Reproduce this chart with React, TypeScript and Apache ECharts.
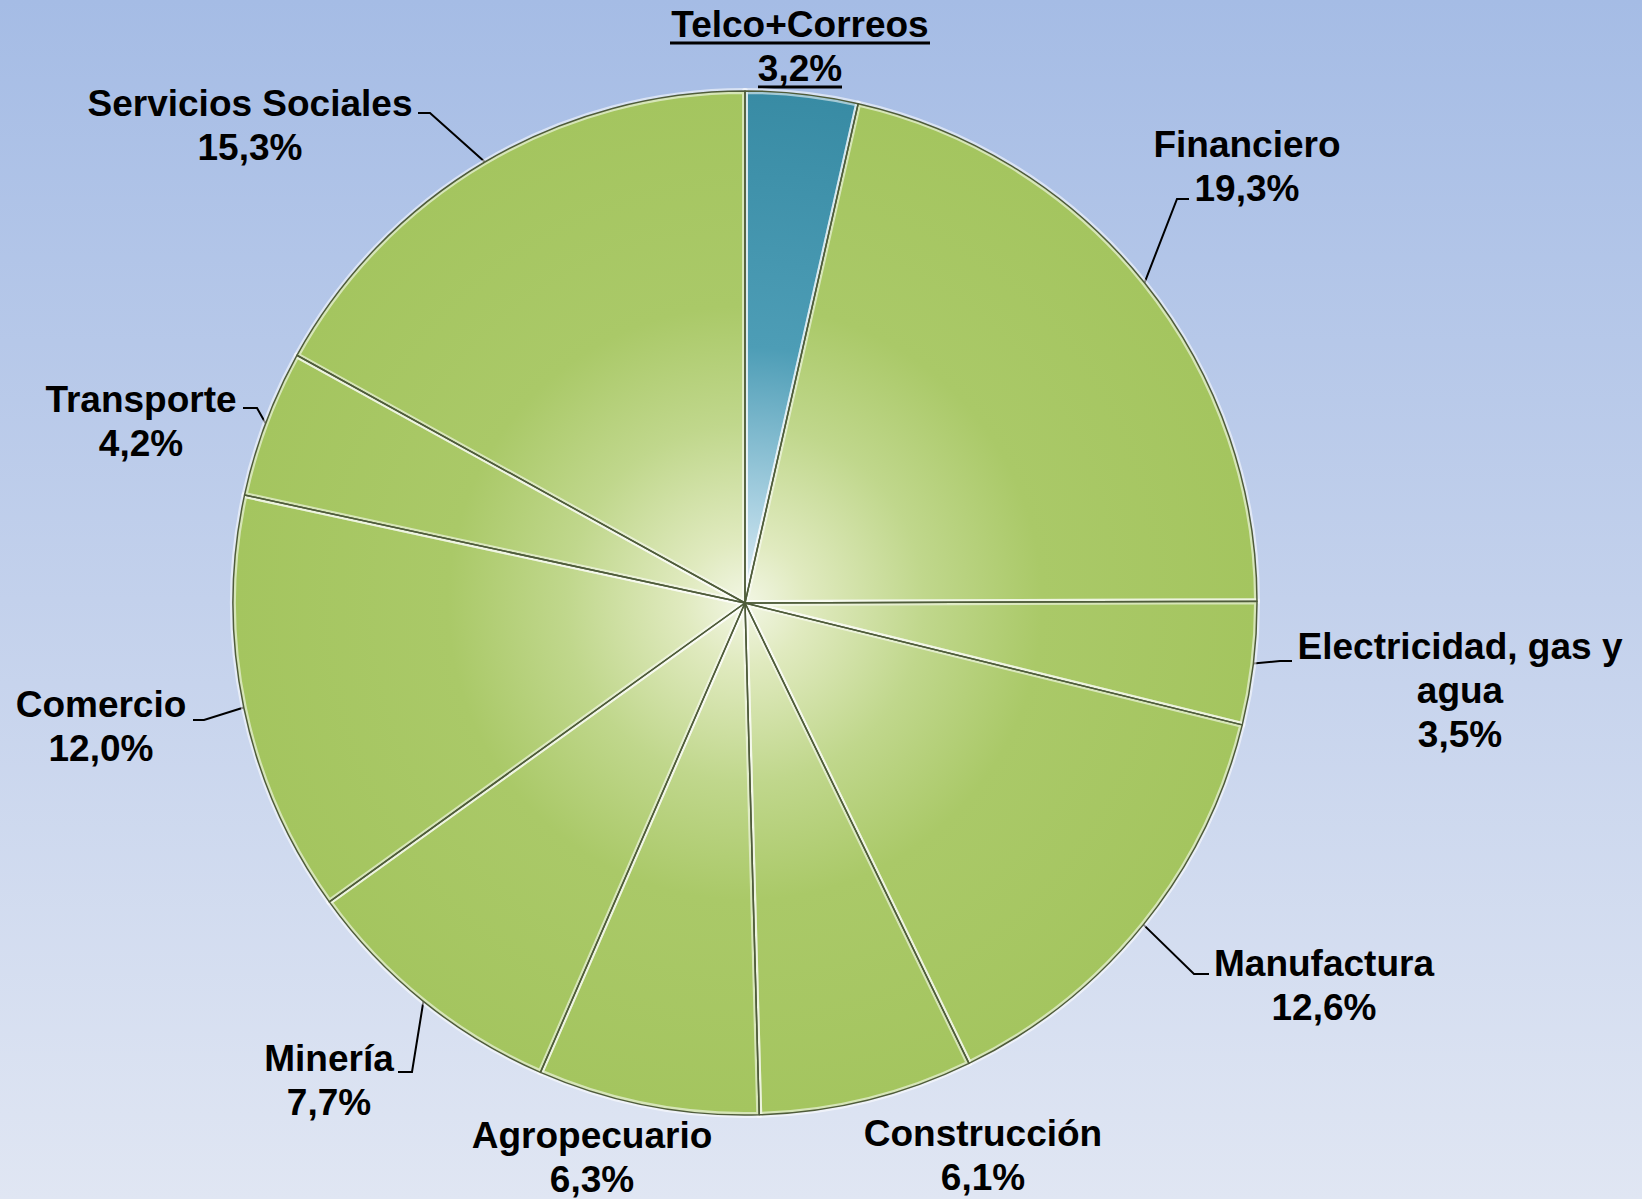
import React, { useEffect, useRef } from 'react';
import * as echarts from 'echarts';

// ---- data ----
const categories = [
  'Telco+Correos',
  'Financiero',
  'Electricidad, gas y\nagua',
  'Manufactura',
  'Construcción',
  'Agropecuario',
  'Minería',
  'Comercio',
  'Transporte',
  'Servicios Sociales',
];
const shares = [3.2, 19.3, 3.5, 12.6, 6.1, 6.3, 7.7, 12.0, 4.2, 15.3];
const highlighted = [true, false, false, false, false, false, false, false, false, false];
const showLeader = [false, true, true, true, false, false, true, true, true, true];

// ---- layout (label placement only) ----
const PIE_CENTER = [745, 603];
const PIE_RADIUS = 512;
const labelCenters = [
  [800, 46],
  [1247, 166],
  [1460, 690],
  [1324, 985],
  [983, 1155],
  [592, 1157],
  [329, 1080],
  [101, 726],
  [141, 421],
  [250, 125],
];
const leaderEnds: (number[][] | null)[] = [
  null,
  [[1177, 199], [1189, 199]],
  [[1280, 661], [1292, 661]],
  [[1194, 974], [1209, 974]],
  null,
  null,
  [[412, 1072], [398, 1072]],
  [[204, 720], [193, 720]],
  [[257, 408], [243, 408]],
  [[430, 113], [418, 113]],
];

const fmt = (v: number) => v.toFixed(1).replace('.', ',') + '%';

export default function App() {
  const ref = useRef<HTMLDivElement>(null);

  useEffect(() => {
    if (!ref.current) return;
    const chart = echarts.init(ref.current, undefined, { renderer: 'svg' });
    const total = shares.reduce((a, b) => a + b, 0);
    const anchors = shares.map((v, i) => {
      const before = shares.slice(0, i).reduce((a, b) => a + b, 0);
      const mid = ((before + v / 2) / total) * Math.PI * 2;
      return [PIE_CENTER[0] + PIE_RADIUS * Math.sin(mid), PIE_CENTER[1] - PIE_RADIUS * Math.cos(mid)];
    });

    const greenFill = new echarts.graphic.RadialGradient(
      PIE_CENTER[0], PIE_CENTER[1], PIE_RADIUS,
      [
        { offset: 0, color: '#f2f6e4' },
        { offset: 0.12, color: '#e0eabf' },
        { offset: 0.35, color: '#c0d78c' },
        { offset: 0.58, color: '#aac968' },
        { offset: 1, color: '#a4c55f' },
      ],
      true
    );
    const tealFill = new echarts.graphic.RadialGradient(
      PIE_CENTER[0], PIE_CENTER[1], PIE_RADIUS,
      [
        { offset: 0, color: '#e2eef6' },
        { offset: 0.2, color: '#a6cfe0' },
        { offset: 0.5, color: '#4d9db6' },
        { offset: 1, color: '#388ba4' },
      ],
      true
    );

    const data = categories.map((name, i) => ({
      name,
      value: shares[i],
      itemStyle: { color: highlighted[i] ? tealFill : greenFill },
      labelLine: { show: showLeader[i] },
    }));
    const outlineData = categories.map((name, i) => ({ name, value: shares[i] }));

    chart.setOption({
      animation: false,
      graphic: [
        { type: 'line', shape: { x1: 670, y1: 43, x2: 930, y2: 43 }, style: { stroke: '#000', lineWidth: 3 } },
        { type: 'line', shape: { x1: 758, y1: 87, x2: 842, y2: 87 }, style: { stroke: '#000', lineWidth: 3 } },
      ],
      series: [
        {
          type: 'pie',
          center: PIE_CENTER,
          radius: PIE_RADIUS,
          startAngle: 90,
          clockwise: true,
          avoidLabelOverlap: false,
          data,
          itemStyle: {
            borderColor: 'rgba(255,255,255,0.55)',
            borderWidth: 6,
          },
          label: {
            show: true,
            position: 'outside',
            formatter: (p: any) => `${p.name}\n${fmt(p.value)}`,
            fontFamily: '"Liberation Sans", Arial, sans-serif',
            fontWeight: 'bold',
            fontSize: 37,
            lineHeight: 44,
            color: '#000',
            align: 'center',
          },
          labelLine: {
            show: true,
            lineStyle: { color: '#000', width: 2 },
          },
          labelLayout: (params: any) => {
            const i = params.dataIndex;
            const c = labelCenters[i];
            const res: any = { x: c[0], y: c[1], align: 'center', verticalAlign: 'middle' };
            const ends = leaderEnds[i];
            if (ends) {
              res.labelLinePoints = [anchors[i], ends[0], ends[1]];
            }
            return res;
          },
        },
        {
          type: 'pie',
          center: PIE_CENTER,
          radius: PIE_RADIUS,
          startAngle: 90,
          clockwise: true,
          silent: true,
          data: outlineData,
          itemStyle: {
            color: 'rgba(0,0,0,0)',
            borderColor: '#4f5c3a',
            borderWidth: 1.5,
          },
          label: { show: false },
          labelLine: { show: false },
        },
      ],
    });
    return () => chart.dispose();
  }, []);

  return (
    <div
      ref={ref}
      style={{
        position: 'absolute',
        left: 0,
        top: 0,
        width: 1642,
        height: 1199,
        background: 'linear-gradient(to bottom, #a5bce5 0%, #c3d1ec 50%, #e0e6f3 100%)',
      }}
    />
  );
}
